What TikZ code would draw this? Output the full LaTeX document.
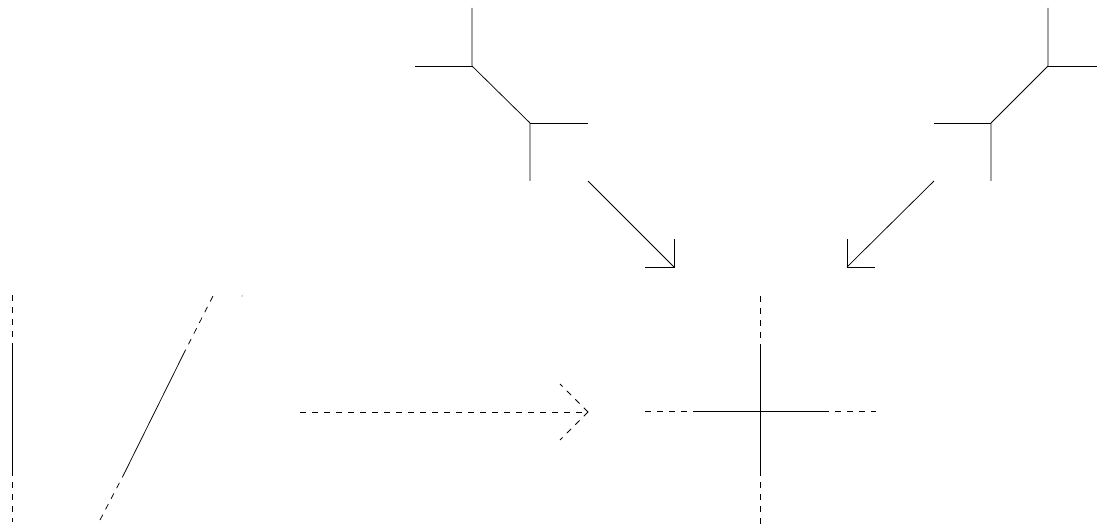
\documentclass[tikz,border=0pt]{standalone}
\begin{document}
\begin{tikzpicture}[x=1pt,y=-1pt,
  ln/.style={line width=0.75pt,black},
  dsh/.style={ln,dash pattern=on 6pt off 6pt}]
\useasboundingbox (0,0) rectangle (1097,526);
% upper-left tree
\coordinate (a1) at (472,66); \coordinate (a2) at (530,123);
\coordinate (a1t) at (472,8); \coordinate (a1l) at (415,66);
\coordinate (a2r) at (588,123); \coordinate (a2b) at (530,181);
\draw[ln] (a1t) -- (a1) -- (a2) -- (a2b);
\draw[ln] (a1l) -- (a1); \draw[ln] (a2) -- (a2r);
% upper-right tree
\coordinate (b1) at (1048,66); \coordinate (b2) at (991,123);
\coordinate (b1t) at (1048,8); \coordinate (b1r) at (1097,66);
\coordinate (b2l) at (934,123); \coordinate (b2b) at (991,181);
\draw[ln] (b1t) -- (b1) -- (b2) -- (b2b);
\draw[ln] (b1r) -- (b1); \draw[ln] (b2l) -- (b2);
% arrows down
\coordinate (p1) at (588,181); \coordinate (p2) at (674,267);
\draw[ln] (p1) -- (p2);
\draw[ln] (645,267) -- (p2) -- (674,239);
\coordinate (q1) at (934,181); \coordinate (q2) at (847,267);
\draw[ln] (q1) -- (q2);
\draw[ln] (875,267) -- (q2) -- (847,239);
% left vertical
\coordinate (v0) at (12,295); \coordinate (v1) at (12,348);
\coordinate (v2) at (12,470); \coordinate (v3) at (12,522);
\draw[dsh] (v0) -- (v1); \draw[ln] (v1) -- (v2); \draw[dsh] (v2) -- (v3);
% left diagonal
\coordinate (d0) at (100,520); \coordinate (d1) at (124,474);
\coordinate (d2) at (183,355); \coordinate (d3) at (213,296);
\draw[dsh] (d0) -- (d1); \draw[ln] (d1) -- (d2); \draw[dsh] (d2) -- (d3);
\fill (242,296) circle (0.5pt);
% dashed arrow
\coordinate (h0) at (300,412); \coordinate (h1) at (588,412);
\draw[dsh] (h0) -- (h1);
\draw[dsh] (h1) -- (560,384);
\draw[dsh] (h1) -- (560,440);
% cross
\coordinate (c0) at (760,296); \coordinate (c1) at (760,348);
\coordinate (c2) at (760,470); \coordinate (c3) at (760,525);
\draw[dsh] (c0) -- (c1); \draw[ln] (c1) -- (c2); \draw[dsh] (c2) -- (c3);
\coordinate (e0) at (645,411); \coordinate (e1) at (697,411);
\coordinate (e2) at (823,411); \coordinate (e3) at (876,411);
\draw[dsh] (e0) -- (e1); \draw[ln] (e1) -- (e2); \draw[dsh] (e2) -- (e3);
\end{tikzpicture}
\end{document}
